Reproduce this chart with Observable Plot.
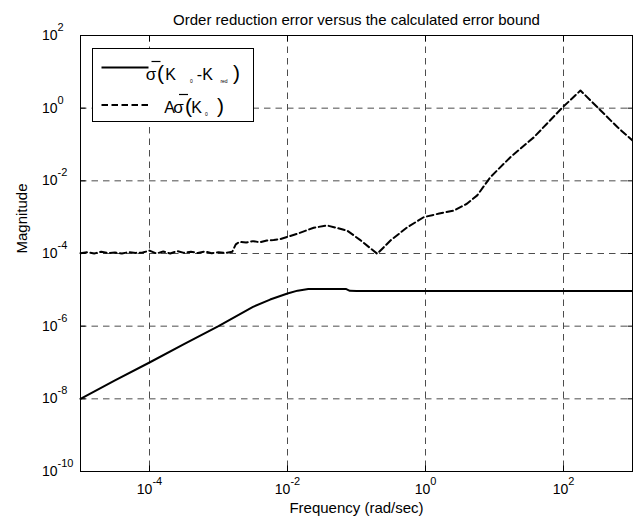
<!DOCTYPE html>
<html>
<head>
<meta charset="utf-8">
<script src="https://cdn.jsdelivr.net/npm/d3@7"></script>
<script src="https://cdn.jsdelivr.net/npm/@observablehq/plot@0.6"></script>
<style>
  html, body { margin: 0; padding: 0; background: #fff; }
  #chart { position: relative; width: 633px; height: 524px; }
</style>
</head>
<body>
<div id="chart"></div>
<script>
// ---- Data ----
const titleText = "Order reduction error versus the calculated error bound";
const xLabelText = "Frequency (rad/sec)";
const yLabelText = "Magnitude";

// Solid: sigma_bar(K0 - Kred)
const solidFreq = [1e-5, 3.16e-5, 1e-4, 3.16e-4, 1e-3, 3.16e-3, 5.6e-3, 1e-2, 1.4e-2, 2e-2, 7e-2, 8e-2, 1e-1, 1e3];
const solidMag  = [1.0e-8, 3.2e-8, 1.0e-7, 3.2e-7, 1.0e-6, 3.4e-6, 5.4e-6, 7.9e-6, 9.5e-6, 1.06e-5, 1.06e-5, 9.4e-6, 9.3e-6, 9.3e-6];

// Dashed: A sigma_bar(K0)
const dashFreq = [1e-5, 1.26e-5, 1.58e-5, 2.0e-5, 2.51e-5, 3.16e-5, 3.98e-5, 5.01e-5, 6.31e-5, 7.94e-5,
  1e-4, 1.26e-4, 1.58e-4, 2.0e-4, 2.51e-4, 3.16e-4, 3.98e-4, 5.01e-4, 6.31e-4, 7.94e-4,
  1e-3, 1.26e-3, 1.58e-3, 1.78e-3, 2.0e-3, 2.51e-3, 3.16e-3, 3.98e-3, 5.01e-3, 6.31e-3, 7.94e-3,
  1.38e-2, 2.4e-2, 3.76e-2, 7.33e-2, 0.115, 0.2, 0.311, 0.543, 0.944, 1.58, 2.57, 3.98, 5.62, 8.71,
  17.0, 37.2, 95.5, 176, 309, 603, 1000];
const dashMag = [1.02e-4, 1.08e-4, 1.0e-4, 1.12e-4, 1.02e-4, 1.06e-4, 1.0e-4, 1.09e-4, 1.04e-4, 1.06e-4,
  1.2e-4, 1.0e-4, 1.13e-4, 1.0e-4, 1.17e-4, 1.04e-4, 1.12e-4, 1.03e-4, 1.14e-4, 1.02e-4,
  1.08e-4, 1.04e-4, 1.11e-4, 1.78e-4, 2.09e-4, 2.0e-4, 2.19e-4, 2.04e-4, 2.29e-4, 2.34e-4, 2.51e-4,
  3.47e-4, 5.13e-4, 5.89e-4, 4.27e-4, 2.29e-4, 9.8e-5, 2.29e-4, 5.25e-4, 1.0e-3, 1.26e-3, 1.51e-3, 2.34e-3, 3.98e-3, 1.26e-2,
  4.47e-2, 0.158, 1.02, 3.06, 1.07, 0.302, 0.129];

// Ticks
const xTickVals = [1e-4, 1e-2, 1, 1e2];
const xTickLabels = ["10^-4", "10^-2", "10^0", "10^2"];
const yTickVals = [1e2, 1, 1e-2, 1e-4, 1e-6, 1e-8, 1e-10];
const yTickLabels = ["10^2", "10^0", "10^-2", "10^-4", "10^-6", "10^-8", "10^-10"];
const xGridVals = [1e-4, 1e-2, 1, 1e2];
const yGridVals = [1, 1e-2, 1e-4, 1e-6, 1e-8];

// ---- Build ----
const solid = solidFreq.map((f, i) => ({f, m: solidMag[i]}));
const dashed = dashFreq.map((f, i) => ({f, m: dashMag[i]}));
const xTicks = xTickVals.map((v, i) => ({v, t: xTickLabels[i]}));
const yTicks = yTickVals.map((v, i) => ({v, t: yTickLabels[i]}));

const FONT = "'Liberation Sans', Arial, Helvetica, sans-serif";
const gridStyle = {stroke: "#4d4d4d", strokeWidth: 1, strokeDasharray: "6.5,5"};

const plot = Plot.plot({
  width: 633,
  height: 524,
  marginLeft: 80,
  marginRight: 1,
  marginTop: 35,
  marginBottom: 53,
  style: {fontFamily: FONT, background: "#fff", color: "#000", overflow: "visible"},
  x: {type: "log", domain: [1e-5, 1e3]},
  y: {type: "log", domain: [1e-10, 1e2]},
  marks: [
    Plot.ruleX(xGridVals, {x: d => d, ...gridStyle}),
    Plot.ruleY(yGridVals, {y: d => d, ...gridStyle}),
    Plot.axisX({anchor: "bottom", ticks: xTickVals, tickSize: -5.5, tickFormat: () => "", label: null}),
    Plot.axisX({anchor: "top", ticks: xTickVals, tickSize: -5.5, tickFormat: () => "", label: null}),
    Plot.axisY({anchor: "left", ticks: yTickVals, tickSize: -5.5, tickFormat: () => "", label: null}),
    Plot.axisY({anchor: "right", ticks: yTickVals, tickSize: -5.5, tickFormat: () => "", label: null}),
    Plot.line(solid, {x: "f", y: "m", stroke: "#000", strokeWidth: 2, curve: "linear"}),
    Plot.line(dashed, {x: "f", y: "m", stroke: "#000", strokeWidth: 2, strokeDasharray: "6.5,3.5", curve: "linear"}),
    Plot.frame({stroke: "#000", strokeWidth: 1}),
    Plot.text(xTicks, {x: "v", text: "t", frameAnchor: "bottom", dy: 22, fontSize: 14, textAnchor: "middle", fill: "#000"}),
    Plot.text(yTicks, {y: "v", text: "t", frameAnchor: "left", dx: -38.5, fontSize: 14, textAnchor: "start", fill: "#000"}),
    Plot.text([titleText], {text: d => d, frameAnchor: "top", dy: -21, fontSize: 15, fill: "#000", letterSpacing: "0.75px"}),
    Plot.text([xLabelText], {text: d => d, frameAnchor: "bottom", dy: 41, fontSize: 15, fill: "#000", letterSpacing: "0.6px"}),
    Plot.text([yLabelText], {text: d => d, frameAnchor: "left", dx: -58.5, rotate: -90, fontSize: 15, fill: "#000", letterSpacing: "0.5px"})
  ]
});

// Superscript exponents in tick labels ("10^-4" -> 10 with raised -4)
d3.select(plot).selectAll("text").each(function() {
  const t = d3.select(this);
  if (t.selectAll("tspan").size() > 0) return;
  const s = t.text();
  if (!s.includes("^")) return;
  const [base, ex] = s.split("^");
  t.text(null);
  t.append("tspan").text(base);
  t.append("tspan").attr("font-size", 11).attr("dy", -9).text(ex);
});

// Legend (MATLAB-style box, top-left inside the axes)
const svg = d3.select(plot);
const lg = svg.append("g").attr("font-family", FONT).attr("fill", "#000");
lg.append("rect").attr("x", 92.5).attr("y", 48.5).attr("width", 161).attr("height", 73)
  .attr("fill", "#fff").attr("stroke", "#000").attr("stroke-width", 1);
lg.append("line").attr("x1", 101.5).attr("x2", 148.5).attr("y1", 67.5).attr("y2", 67.5)
  .attr("stroke", "#000").attr("stroke-width", 2);
lg.append("line").attr("x1", 101.5).attr("x2", 148.5).attr("y1", 105).attr("y2", 105)
  .attr("stroke", "#000").attr("stroke-width", 2).attr("stroke-dasharray", "6.5,3.5");

function piece(x, y, size, str) {
  lg.append("text").attr("x", x).attr("y", y).attr("font-size", size).text(str);
}
// row 1: sigma-bar ( K0 - Kred )
piece(151, 80, 17, "σ");
lg.append("line").attr("x1", 151.5).attr("x2", 160.5).attr("y1", 61.5).attr("y2", 61.5).attr("stroke", "#000").attr("stroke-width", 1.2);
piece(160.5, 80, 21, "(");
piece(170.5, 80, 16, "K");
piece(191.5, 83, 5, "0");
piece(199.5, 80, 16, "-");
piece(207.5, 80, 16, "K");
piece(224, 83, 5, "red");
piece(236.5, 80, 21, ")");
// row 2: A sigma-bar ( K0 )
piece(169.5, 112.5, 16, "A");
piece(178.5, 112.5, 17, "σ");
lg.append("line").attr("x1", 179).attr("x2", 188).attr("y1", 94.5).attr("y2", 94.5).attr("stroke", "#000").attr("stroke-width", 1.2);
piece(188.5, 112.5, 21, "(");
piece(196.5, 112.5, 16, "K");
piece(206.5, 115.5, 5, "0");
piece(220.5, 112.5, 21, ")");

document.getElementById("chart").appendChild(plot);
</script>
</body>
</html>
